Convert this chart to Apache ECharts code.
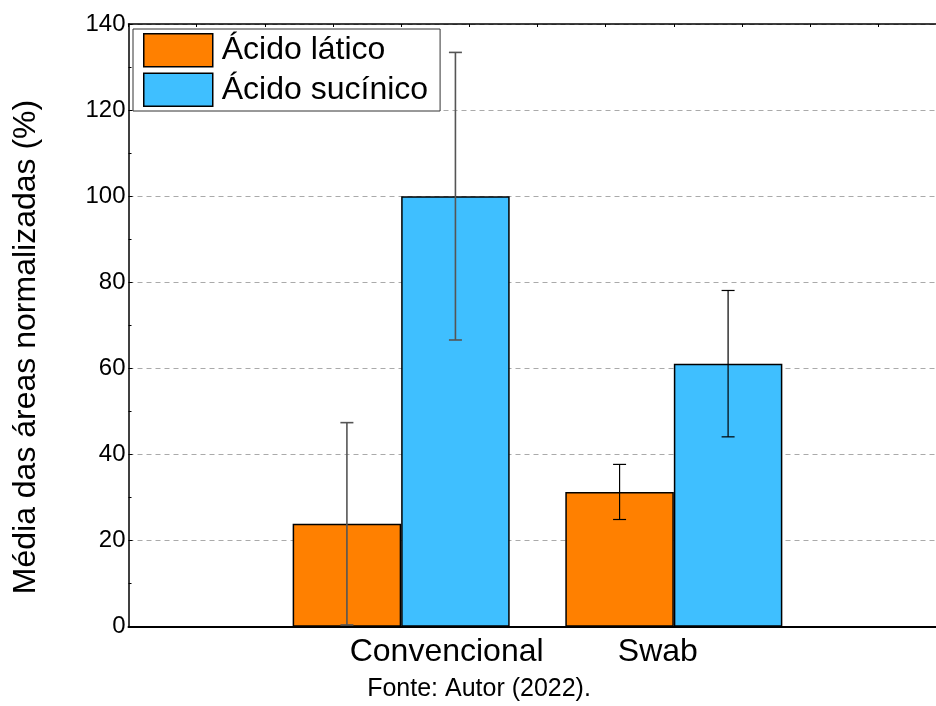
<!DOCTYPE html>
<html>
<head>
<meta charset="utf-8">
<script src="https://cdn.jsdelivr.net/npm/echarts@6/dist/echarts.min.js"></script>
<style>
html,body{margin:0;padding:0;background:#fff;}
#chart{width:936px;height:706px;}
</style>
</head>
<body>
<div id="chart"></div>
<script>
// ---- data ----
const categories = ['', 'Convencional', 'Swab', ''];
const seriesNames = ['Ácido lático', 'Ácido sucínico'];
const laticoMean = [null, 23.9, 31.3, null];
const laticoErr = [null, 23.5, 6.4, null];
const succinicoMean = [null, 100.0, 61.1, null];
const succinicoErr = [null, 33.4, 17.0, null];
const yTicks = [0, 20, 40, 60, 80, 100, 120, 140];
const yTitle = 'Média das áreas normalizadas (%)';
const sourceNote = 'Fonte: Autor (2022).';

const FONT = "'Liberation Sans', Arial, Helvetica, sans-serif";
const ORANGE = '#FF8000';
const BLUE = '#3FBFFF';

const chart = echarts.init(document.getElementById('chart'), null, {renderer: 'canvas'});

function errData(mean, err) {
  const out = [];
  mean.forEach((m, i) => { if (m !== null) out.push([i, m, err[i]]); });
  return out;
}

function errRender(offsetFrac) {
  return function (params, api) {
    const xi = api.value(0), m = api.value(1), e = api.value(2);
    const bw = api.size([1, 0])[0];
    const c = api.coord([xi, m]);
    const x = c[0] + offsetFrac * bw;
    const top = api.coord([xi, m + e])[1];
    const bot = api.coord([xi, m - e])[1];
    const hw = 6.5;
    const isConv = categories[xi] === 'Convencional';
    const style = {stroke: isConv ? '#555' : '#000', lineWidth: isConv ? 1.6 : 1.2, fill: null};
    return {
      type: 'group',
      children: [
        {type: 'line', shape: {x1: x, y1: top, x2: x, y2: bot}, style: style},
        {type: 'line', shape: {x1: x - hw, y1: top, x2: x + hw, y2: top}, style: style},
        {type: 'line', shape: {x1: x - hw, y1: bot, x2: x + hw, y2: bot}, style: style}
      ]
    };
  };
}

const option = {
  backgroundColor: '#fff',
  animation: false,
  textStyle: {fontFamily: FONT},
  grid: {left: 128.5, top: 24, width: 818, height: 602.7, containLabel: false, outerBoundsMode: 'none'},
  legend: {
    data: seriesNames,
    orient: 'vertical',
    left: 133, top: 29,
    padding: [4, 12, 4, 10],
    itemWidth: 69, itemHeight: 33, itemGap: 5,
    backgroundColor: '#fff',
    borderColor: '#333', borderWidth: 1, borderRadius: 0,
    icon: 'rect',
    itemStyle: {borderColor: '#000', borderWidth: 1.5},
    textStyle: {fontSize: 32, color: '#000', fontFamily: FONT, lineHeight: 33, padding: [0, 0, 0, 4]}
  },
  xAxis: [
    {
      type: 'category',
      data: categories,
      boundaryGap: false,
      position: 'bottom',
      axisLine: {show: true, lineStyle: {color: '#000', width: 2}},
      axisTick: {show: false},
      splitLine: {show: false},
      axisLabel: {
        interval: 0,
        margin: 9,
        color: '#000',
        fontSize: 32,
        fontFamily: FONT,
        formatter: function (v) {
          if (v === 'Convencional') return '{a|' + v + '}';
          if (v === 'Swab') return '{b|' + v + '}';
          return '';
        },
        rich: {
          a: {fontSize: 32, color: '#000', fontFamily: FONT, padding: [0, 0, 0, 91]},
          b: {fontSize: 32, color: '#000', fontFamily: FONT, padding: [0, 32, 0, 0]}
        }
      }
    },
    {
      type: 'value',
      position: 'top',
      min: 0, max: 12, interval: 1,
      axisLine: {show: true, onZero: false, lineStyle: {color: '#000', width: 1.5}},
      axisTick: {show: true, inside: true, length: 3, lineStyle: {color: '#000'}},
      axisLabel: {show: false},
      splitLine: {show: false}
    }
  ],
  yAxis: {
    type: 'value',
    min: yTicks[0], max: yTicks[yTicks.length - 1], interval: 20,
    axisLine: {show: true, lineStyle: {color: '#000', width: 1.5}},
    axisTick: {show: true, inside: true, length: 4, lineStyle: {color: '#000'}},
    minorTick: {show: true, splitNumber: 2, length: 3, lineStyle: {color: '#000'}},
    axisLabel: {color: '#000', fontSize: 24, fontFamily: FONT, margin: 3},
    splitLine: {show: true, lineStyle: {color: '#aaa', type: [5, 4], width: 1}}
  },
  graphic: [
    {
      type: 'text',
      x: 26, y: 347, rotation: Math.PI / 2,
      style: {text: yTitle, fontSize: 32, fontFamily: FONT, fill: '#000', textAlign: 'center', textVerticalAlign: 'middle'}
    },
    {
      type: 'text', x: 479, y: 689,
      style: {text: sourceNote, fontSize: 25, fontFamily: FONT, fill: '#000', textAlign: 'center', textVerticalAlign: 'middle'}
    }
  ],
  series: [
    {
      name: seriesNames[0], type: 'bar', xAxisIndex: 0,
      data: laticoMean, barWidth: '39.8%', barGap: '0%',
      itemStyle: {color: ORANGE, borderColor: '#000', borderWidth: 1.5}
    },
    {
      name: seriesNames[1], type: 'bar', xAxisIndex: 0,
      data: succinicoMean, barWidth: '39.8%', barGap: '0%',
      itemStyle: {color: BLUE, borderColor: '#000', borderWidth: 1.5}
    },
    {
      type: 'custom', xAxisIndex: 0, z: 5,
      renderItem: errRender(-0.199),
      data: errData(laticoMean, laticoErr)
    },
    {
      type: 'custom', xAxisIndex: 0, z: 5,
      renderItem: errRender(0.199),
      data: errData(succinicoMean, succinicoErr)
    }
  ]
};
chart.setOption(option);
</script>
</body>
</html>
